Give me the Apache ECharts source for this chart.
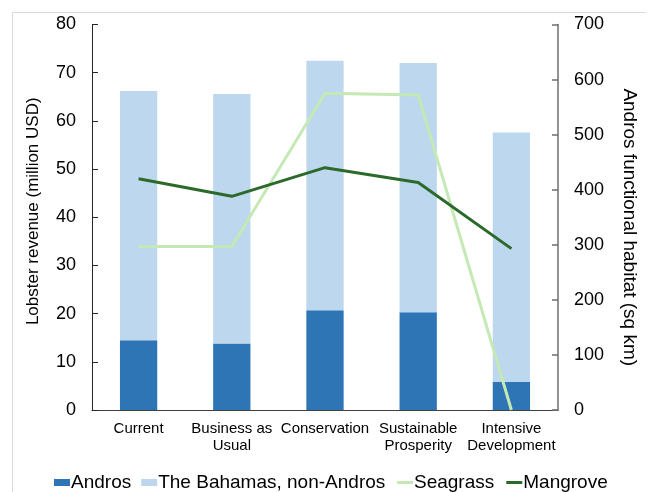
<!DOCTYPE html>
<html>
<head>
<meta charset="utf-8">
<script src="https://cdn.jsdelivr.net/npm/echarts@6/dist/echarts.min.js"></script>
<style>
  html, body { margin: 0; padding: 0; background: #ffffff; }
  #chart { width: 649px; height: 492px; }
</style>
</head>
<body>
<div id="chart"></div>
<script>
// Scenario names along the x axis
const scenarios = ['Current', 'Business as\nUsual', 'Conservation', 'Sustainable\nProsperity', 'Intensive\nDevelopment'];

// Lobster revenue, million USD (stacked bars)
const androsRevenue = [14.5, 13.8, 20.7, 20.3, 5.8];
const restOfBahamasRevenue = [51.7, 51.8, 51.8, 51.7, 51.8];

// Andros functional habitat, sq km (lines, right axis)
const seagrassHabitat = [297, 297, 575, 572, 0];
const mangroveHabitat = [420, 388, 440, 413, 293];

const chart = echarts.init(document.getElementById('chart'), null, { renderer: 'canvas' });

const font = 'Liberation Sans, Arial, Helvetica, sans-serif';
const legendText = { fontSize: 19, color: '#000000', fontFamily: font, padding: [0, 0, 0, -4] };

chart.setOption({
  animation: false,
  textStyle: { fontFamily: font },
  graphic: [{
    type: 'polyline',
    shape: { points: [[12.5, 492], [12.5, 12.5], [645.5, 12.5]] },
    style: { stroke: '#d9d9d9', lineWidth: 1, fill: null },
    silent: true
  }],
  grid: { left: 92, right: 91, top: 24.5, bottom: 82 },
  legend: [{
    // bar entries: filled squares
    left: 54,
    top: 473,
    padding: 0,
    icon: 'rect',
    itemWidth: 16,
    itemHeight: 7,
    itemGap: 10,
    textStyle: legendText,
    data: ['Andros', 'The Bahamas, non-Andros']
  }, {
    // line entries: short strokes
    left: 397,
    top: 473,
    padding: 0,
    icon: 'rect',
    itemWidth: 16,
    itemHeight: 3,
    itemGap: 12,
    textStyle: legendText,
    data: ['Seagrass', 'Mangrove']
  }],
  xAxis: {
    type: 'category',
    data: scenarios,
    axisLine: { lineStyle: { color: '#404040', width: 1 } },
    axisTick: { show: false },
    axisLabel: { color: '#000000', fontSize: 15, margin: 10, lineHeight: 17, interval: 0 }
  },
  yAxis: [{
    type: 'value',
    min: 0, max: 80, interval: 10,
    name: 'Lobster revenue (million USD)',
    nameLocation: 'middle',
    nameGap: 50,
    nameRotate: 90,
    nameTextStyle: { fontSize: 17, color: '#000000', padding: [0, 0, 0, 12] },
    splitLine: { show: false },
    axisLine: { show: true, lineStyle: { color: '#262626', width: 1 } },
    axisTick: { show: true, inside: true, length: 6, lineStyle: { color: '#262626' } },
    axisLabel: { color: '#000000', fontSize: 18, margin: 16 }
  }, {
    type: 'value',
    min: 0, max: 700, interval: 100,
    position: 'right',
    name: 'Andros functional habitat (sq km)',
    nameLocation: 'middle',
    nameGap: 62,
    nameRotate: -90,
    nameTextStyle: { fontSize: 19, color: '#000000', padding: [0, 0, 0, 20] },
    splitLine: { show: false },
    axisLine: { show: true, lineStyle: { color: '#6e6e6e', width: 1.5 } },
    axisTick: { show: true, inside: true, length: 6, lineStyle: { color: '#6e6e6e', width: 1.5 } },
    axisLabel: { color: '#000000', fontSize: 18, margin: 16 }
  }],
  series: [{
    name: 'Andros',
    type: 'bar',
    stack: 'revenue',
    barWidth: '40%',
    itemStyle: { color: '#2e75b6' },
    data: androsRevenue
  }, {
    name: 'The Bahamas, non-Andros',
    type: 'bar',
    stack: 'revenue',
    barWidth: '40%',
    itemStyle: { color: '#bdd7ee' },
    data: restOfBahamasRevenue
  }, {
    name: 'Seagrass',
    type: 'line',
    yAxisIndex: 1,
    symbol: 'none',
    lineStyle: { color: '#c5e9b5', width: 3 },
    itemStyle: { color: '#c5e9b5' },
    data: seagrassHabitat
  }, {
    name: 'Mangrove',
    type: 'line',
    yAxisIndex: 1,
    symbol: 'none',
    lineStyle: { color: '#2b6a2b', width: 3 },
    itemStyle: { color: '#2b6a2b' },
    data: mangroveHabitat
  }]
});
</script>
</body>
</html>
